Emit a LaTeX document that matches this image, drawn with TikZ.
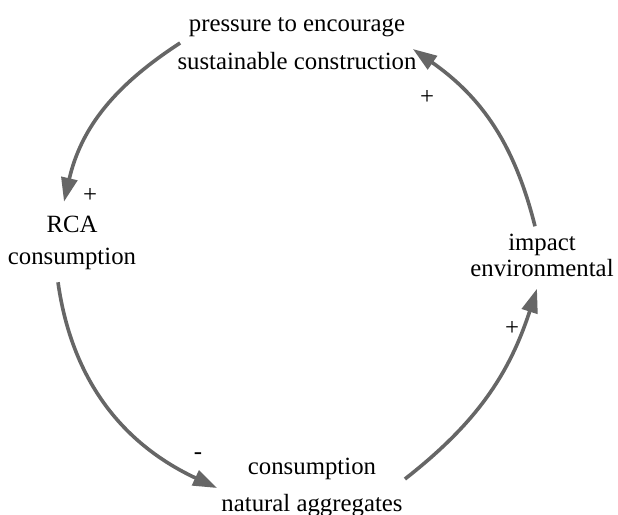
\documentclass[tikz,border=0pt]{standalone}
\usepackage{fontspec}
\setmainfont{Liberation Serif}
\usetikzlibrary{arrows.meta}
\definecolor{linkgray}{RGB}{102,102,102}

\begin{document}
\begin{tikzpicture}[x=0.5pt, y=0.5pt, every node/.style={font=\fontsize{12.4}{14}\selectfont}, var/.style={align=center, inner sep=0pt}, sign/.style={inner sep=0pt}, link/.style={-{Triangle[length=12pt, width=8pt]}, line width=1.8pt, draw=linkgray}]
\useasboundingbox (0,0) rectangle (618,-515);
\node[var] (press) at (297,-44) {pressure to encourage\\[5pt]sustainable construction};
\node[var] (rca) at (72,-243) {RCA\\[2pt]consumption};
\node[var] (imp) at (542,-255) {impact\\[-1pt]environmental};
\node[var] (nat) at (312,-487) {consumption\\[4.5pt]natural aggregates};
\node[sign] (s1) at (90,-195) {+};
\node[sign] (s2) at (198,-456) {-};
\node[sign] (s3) at (512,-328) {+};
\node[sign] (s4) at (427,-97) {+};
\draw[link] ([shift={(3,1)}]press.west) to[out=213, in=77] ([shift={(-8,14)}]rca.north);
\draw[link] ([shift={(-14,-12)}]rca.south) to[out=278, in=155] ([shift={(-4,-1)}]nat.west);
\draw[link] ([shift={(2,8)}]nat.east) to[out=38, in=252] ([shift={(-5,-12)}]imp.south);
\draw[link] ([shift={(-7,7)}]imp.north) to[out=104, in=325] ([shift={(-4,-5)}]press.east);
\end{tikzpicture}
\end{document}
